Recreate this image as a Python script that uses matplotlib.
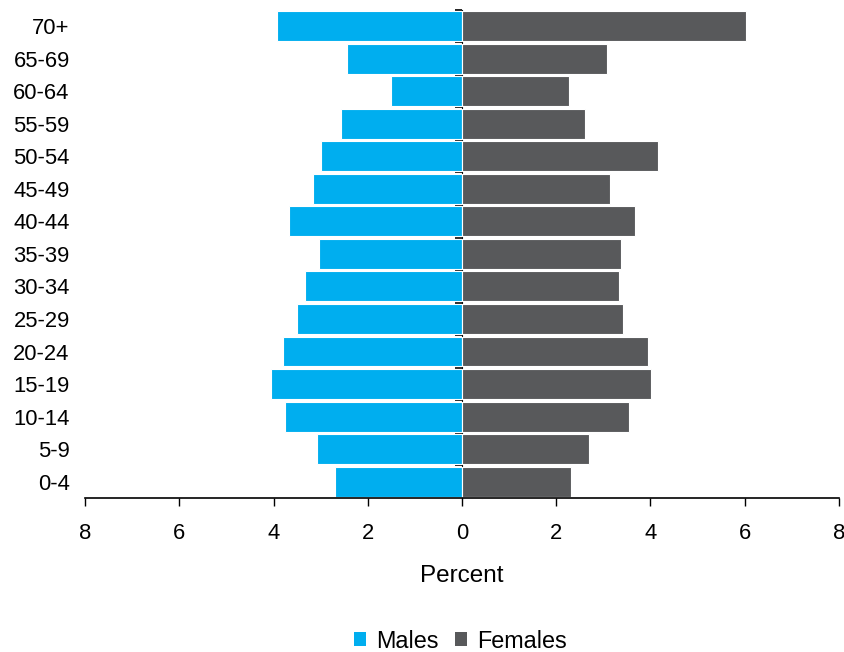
import matplotlib
matplotlib.use('Agg')
import matplotlib.pyplot as plt
from matplotlib.patches import Patch
import numpy as np

plt.rcParams['font.family'] = ['Liberation Sans', 'DejaVu Sans']

# grupos de edad, de abajo hacia arriba
grupos = ["0-4", "5-9", "10-14", "15-19", "20-24", "25-29", "30-34", "35-39",
          "40-44", "45-49", "50-54", "55-59", "60-64", "65-69", "70+"]
hombres = [2.69, 3.08, 3.75, 4.06, 3.80, 3.50, 3.33, 3.03,
           3.67, 3.16, 2.99, 2.56, 1.50, 2.44, 3.93]
mujeres = [2.31, 2.70, 3.55, 4.02, 3.94, 3.42, 3.34, 3.38,
           3.68, 3.13, 4.15, 2.61, 2.27, 3.08, 6.02]
ticks_x = [-8, -6, -4, -2, 0, 2, 4, 6, 8]

azul = "#00AEEF"
gris = "#58595B"

fig = plt.figure(figsize=(8.45, 6.52), dpi=100)
ax = fig.add_axes([85/845, 1-498/652, (839-85)/845, (498-9.7)/652])

y = np.arange(len(grupos))
ax.barh(y, -np.array(hombres), height=0.92, color=azul, edgecolor="white", linewidth=0.8)
ax.barh(y, mujeres, height=0.92, color=gris, edgecolor="white", linewidth=0.8)

ax.set_xlim(-8, 8)
ax.set_ylim(-0.5, len(grupos) - 0.5)
ax.set_xticks(ticks_x)
ax.set_xticklabels([str(abs(t)) for t in ticks_x])
ax.set_yticks(y)
ax.set_yticklabels(grupos)

for lado in ["top", "right", "left"]:
    ax.spines[lado].set_visible(False)
ax.spines["bottom"].set_linewidth(1.2)

ax.tick_params(axis="x", length=6, width=1, pad=12, labelsize=15.8)
ax.tick_params(axis="y", length=0, pad=11, labelsize=15.8)
ax.set_xlabel("Percent", fontsize=17.5, labelpad=15)

# marquitas en el eje central
eje0 = ax.secondary_yaxis(0.5)
eje0.spines["left"].set_visible(False)
eje0.set_yticks(y + 0.5)
eje0.set_yticklabels([])
eje0.tick_params(length=5, width=1.2, direction="in")

leyenda = [Patch(facecolor=azul, label="Males"), Patch(facecolor=gris, label="Females")]
fig.legend(handles=leyenda, loc="center", bbox_to_anchor=(460/845, 1-641/652), ncol=2,
           frameon=False, fontsize=16.8, handlelength=0.55, handleheight=0.55,
           handletextpad=0.4, columnspacing=0.7)

plt.savefig("out.png", dpi=100)
plt.close()
